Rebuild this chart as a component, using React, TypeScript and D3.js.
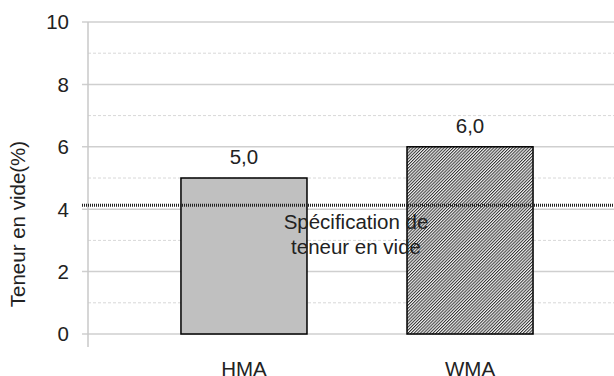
import React from "react";
import * as d3 from "d3";

// Void content per mix type
const categories = ["HMA", "WMA"];
const voidContent = [5.0, 6.0];
const valueLabels = ["5,0", "6,0"];
const yTicks = [0, 2, 4, 6, 8, 10];
const yMinorTicks = [1, 3, 5, 7, 9];
const specValue = 4.13;
const specLabel = ["Spécification de", "teneur en vide"];
const yTitle = "Teneur en vide(%)";

const W = 614;
const H = 376;
const FONT = "'Liberation Sans', Arial, sans-serif";
const FS = 20.5;

export default function App() {
  const y = d3.scaleLinear().domain([0, 10]).range([334, 22]);
  const x = d3
    .scaleBand<string>()
    .domain(categories)
    .range([131, 583])
    .paddingInner(0.4425)
    .paddingOuter(0.221);

  const axisX = 88;
  const right = W;

  return (
    <svg
      width={W}
      height={H}
      style={{ position: "absolute", left: 0, top: 0, background: "#fff" }}
      fontFamily={FONT}
    >
      <defs>
        <pattern
          id="hatch"
          patternUnits="userSpaceOnUse"
          width={2.2}
          height={10}
          patternTransform="rotate(45)"
        >
          <rect width={2.2} height={10} fill="#f2f2f2" />
          <rect width={1} height={10} fill="#333" />
        </pattern>
      </defs>

      {/* minor gridlines */}
      {yMinorTicks.map((t) => (
        <line
          key={"m" + t}
          x1={axisX}
          x2={right}
          y1={y(t)}
          y2={y(t)}
          stroke="#d8d8d8"
          strokeWidth={1}
          strokeDasharray="3,2"
        />
      ))}
      {/* major gridlines with ticks */}
      {yTicks.map((t) => (
        <line
          key={"g" + t}
          x1={axisX - 6}
          x2={right}
          y1={y(t)}
          y2={y(t)}
          stroke="#cfcfcf"
          strokeWidth={1.5}
        />
      ))}
      {/* y axis line */}
      <line x1={axisX} x2={axisX} y1={y(10)} y2={y(0) + 13} stroke="#c8c8c8" strokeWidth={1.5} />

      {/* tick labels */}
      {yTicks.map((t) => (
        <text
          key={"t" + t}
          x={69}
          y={y(t) + 7.3}
          textAnchor="end"
          fontSize={FS}
          fill="#222"
        >
          {t}
        </text>
      ))}

      {/* bars */}
      {categories.map((c, i) => (
        <rect
          key={c}
          x={x(c)}
          y={y(voidContent[i])}
          width={x.bandwidth()}
          height={y(0) - y(voidContent[i])}
          fill={i === 0 ? "#c0c0c0" : "url(#hatch)"}
          stroke="#000"
          strokeWidth={1.5}
        />
      ))}

      {/* value labels */}
      {categories.map((c, i) => (
        <text
          key={"v" + c}
          x={(x(c) as number) + x.bandwidth() / 2}
          y={y(voidContent[i]) - 14}
          textAnchor="middle"
          fontSize={FS}
          fill="#222"
        >
          {valueLabels[i]}
        </text>
      ))}

      {/* specification line */}
      <line
        x1={axisX - 6}
        x2={right}
        y1={y(specValue)}
        y2={y(specValue)}
        stroke="#222"
        strokeWidth={3}
        strokeDasharray="1,1"
      />
      <text x={356} y={229} textAnchor="middle" fontSize={FS} fill="#222">
        {specLabel[0]}
      </text>
      <text x={356} y={254} textAnchor="middle" fontSize={FS} fill="#222">
        {specLabel[1]}
      </text>

      {/* category labels */}
      {categories.map((c) => (
        <text
          key={"c" + c}
          x={(x(c) as number) + x.bandwidth() / 2}
          y={376}
          textAnchor="middle"
          fontSize={FS}
          fill="#222"
        >
          {c}
        </text>
      ))}

      {/* y axis title */}
      <text
        transform={`translate(25,224) rotate(-90)`}
        textAnchor="middle"
        fontSize={FS}
        fill="#222"
      >
        {yTitle}
      </text>
    </svg>
  );
}
